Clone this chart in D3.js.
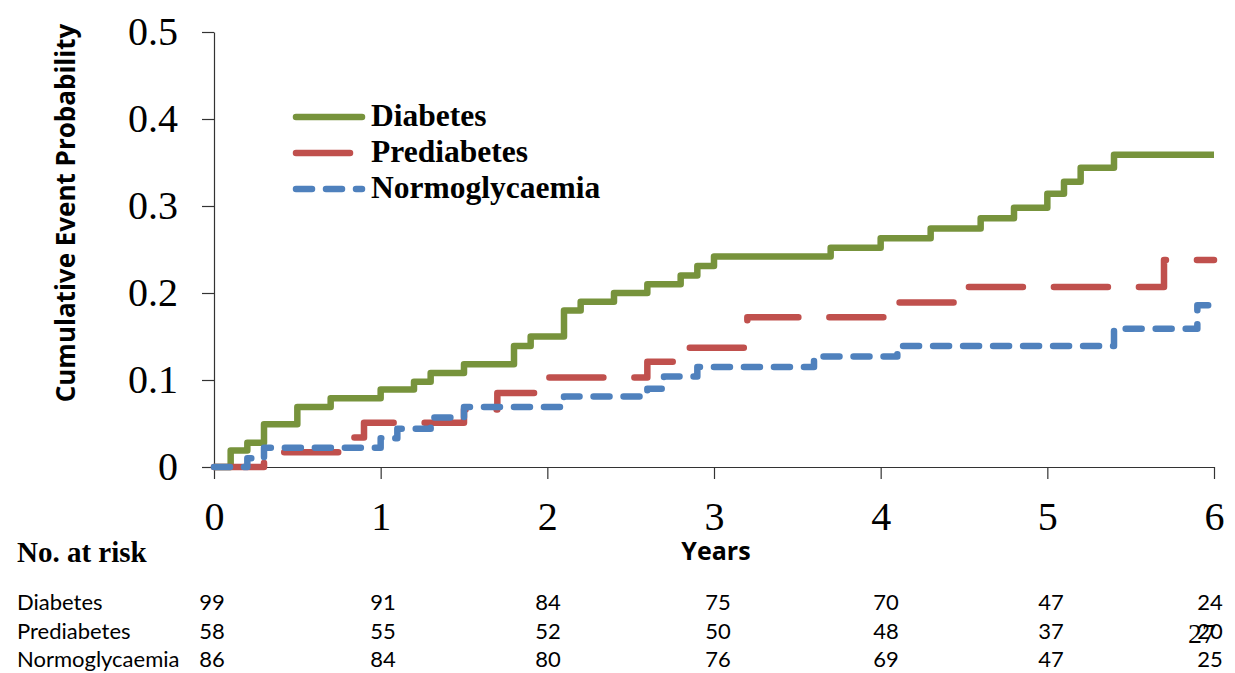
<!DOCTYPE html>
<html><head><meta charset="utf-8">
<script src="https://cdn.jsdelivr.net/npm/d3@7"></script>
<style>body{margin:0;background:#fff}svg{display:block}</style>
</head><body><svg id="c" width="1235" height="673"></svg>
<script>
// ---------- data ----------
const seriesNames = ["Diabetes", "Prediabetes", "Normoglycaemia"];
const diabetesYears = [0, 0.1, 0.2, 0.3, 0.5, 0.7, 1.0, 1.2, 1.3, 1.5, 1.8, 1.9, 2.1, 2.2, 2.4, 2.6, 2.8, 2.9, 3.0, 3.7, 4.0, 4.3, 4.6, 4.8, 5.0, 5.1, 5.2, 5.4, 6.0];
const diabetesProb  = [0, 0.019, 0.028, 0.049, 0.069, 0.079, 0.089, 0.098, 0.108, 0.118, 0.139, 0.150, 0.180, 0.190, 0.200, 0.210, 0.220, 0.231, 0.242, 0.252, 0.263, 0.274, 0.286, 0.298, 0.314, 0.328, 0.344, 0.359, 0.359];
const prediabetesYears = [0, 0.3, 0.8, 0.9, 1.5, 1.7, 1.95, 2.6, 2.8, 3.2, 4.1, 4.45, 5.7, 6.0];
const prediabetesProb  = [0, 0.017, 0.034, 0.051, 0.066, 0.085, 0.103, 0.121, 0.137, 0.172, 0.189, 0.207, 0.238, 0.238];
const normoYears = [0, 0.2, 0.3, 1.0, 1.1, 1.3, 1.5, 2.1, 2.6, 2.7, 2.9, 3.6, 4.1, 5.4, 5.9, 6.0];
const normoProb  = [0, 0.010, 0.022, 0.033, 0.044, 0.057, 0.069, 0.081, 0.090, 0.104, 0.115, 0.127, 0.139, 0.159, 0.186, 0.186];
const xTicks = [0, 1, 2, 3, 4, 5, 6];
const xTickLabels = ["0", "1", "2", "3", "4", "5", "6"];
const yTicks = [0, 0.1, 0.2, 0.3, 0.4, 0.5];
const yTickLabels = ["0", "0.1", "0.2", "0.3", "0.4", "0.5"];
const riskDiabetes = ["99", "91", "84", "75", "70", "47", "24"];
const riskPrediabetes = ["58", "55", "52", "50", "48", "37", "20"];
const riskNormo = ["86", "84", "80", "76", "69", "47", "25"];
const yTitle = "Cumulative Event Probability";
const xTitle = "Years";
const riskTitle = "No. at risk";
const slideNumber = "27";

// ---------- layout / style ----------
const svg = d3.select("#c");
const x = d3.scaleLinear().domain([0, 6]).range([214, 1214]);
const y = d3.scaleLinear().domain([0, 0.5]).range([467, 32]);
const serif = "'Liberation Serif','Times New Roman',serif";
const sans = "Lato,'Open Sans',sans-serif";
const sansBold = "'Open Sans',Lato,sans-serif";
const axisColor = "#333";

const styles = [
  {color: "#77933C", dash: null},
  {color: "#C0504D", dash: "54,31"},
  {color: "#4F81BD", dash: "16,14"}
];

// axes
const gy = svg.append("g").attr("transform", `translate(${x(0)},0)`)
  .call(d3.axisLeft(y).tickValues(yTicks).tickSize(12).tickSizeOuter(0).tickPadding(24)
    .tickFormat((d, i) => yTickLabels[i]));
const gx = svg.append("g").attr("transform", `translate(0,${y(0)})`)
  .call(d3.axisBottom(x).tickValues(xTicks).tickSize(12).tickSizeOuter(0).tickPadding(23)
    .tickFormat((d, i) => xTickLabels[i]));
[gx, gy].forEach(g => {
  g.selectAll("path,line").attr("stroke", axisColor).attr("stroke-width", 1.2);
  g.selectAll("text").attr("font-family", serif).attr("font-size", 40).attr("fill", "#000");
});

// curves
const series = [
  {t: diabetesYears, p: diabetesProb},
  {t: prediabetesYears, p: prediabetesProb},
  {t: normoYears, p: normoProb}
];
const line = d3.line().x(d => x(d[0])).y(d => y(d[1])).curve(d3.curveStepAfter);
series.forEach((s, i) => {
  const pts = s.t.map((t, j) => [t, s.p[j]]);
  svg.append("path").datum(pts).attr("d", line)
    .attr("fill", "none").attr("stroke", styles[i].color).attr("stroke-width", 6.5)
    .attr("stroke-linejoin", "round")
    .attr("stroke-linecap", styles[i].dash ? "round" : "butt")
    .attr("stroke-dasharray", styles[i].dash);
});

// legend
const legY = [117, 153, 189];
const legBase = [126, 162, 198];
seriesNames.forEach((n, i) => {
  svg.append("line").attr("x1", 296).attr("x2", 362).attr("y1", legY[i]).attr("y2", legY[i])
    .attr("stroke", styles[i].color).attr("stroke-width", 6.5).attr("stroke-linecap", "round")
    .attr("stroke-dasharray", styles[i].dash);
  svg.append("text").attr("x", 371).attr("y", legBase[i]).text(n)
    .attr("font-family", serif).attr("font-weight", "bold").attr("font-size", 31.5);
});

// titles
svg.append("text").attr("transform", "translate(75,213) rotate(-90)")
  .attr("text-anchor", "middle").text(yTitle)
  .attr("font-family", sansBold).attr("font-weight", "bold").attr("font-size", 26);
svg.append("text").attr("x", 716).attr("y", 560).attr("text-anchor", "middle").text(xTitle)
  .attr("font-family", sansBold).attr("font-weight", "bold").attr("font-size", 25);
svg.append("text").attr("x", 17).attr("y", 562).text(riskTitle)
  .attr("font-family", serif).attr("font-weight", "bold").attr("font-size", 29);

// risk table
const colX = [212, 383, 548, 718, 886, 1051, 1210];
const rowBase = [610, 639, 667];
const rows = [riskDiabetes, riskPrediabetes, riskNormo];
rows.forEach((r, i) => {
  svg.append("text").attr("x", 17).attr("y", rowBase[i]).text(seriesNames[i])
    .attr("font-family", sans).attr("font-size", 22);
  r.forEach((v, j) => {
    svg.append("text").attr("x", colX[j]).attr("y", rowBase[i]).attr("text-anchor", "middle")
      .text(v).attr("font-family", sans).attr("font-size", 22);
  });
});
svg.append("text").attr("x", 1188).attr("y", 643).text(slideNumber)
  .attr("font-family", serif).attr("font-size", 28);
</script></body></html>
